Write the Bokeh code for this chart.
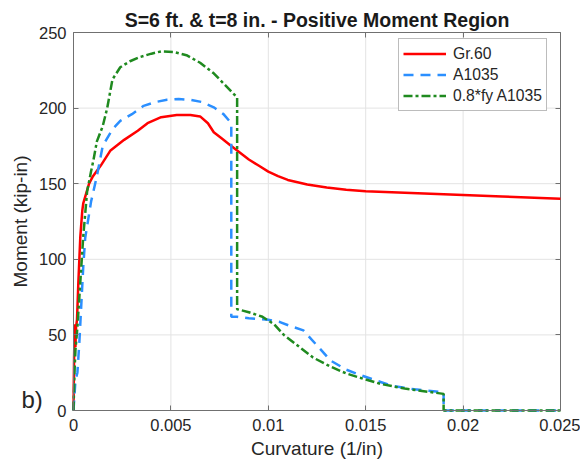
from bokeh.plotting import figure
from bokeh.models import (FixedTicker, NumeralTickFormatter, Legend, LegendItem, Range1d,
                          LinearAxis, Label)
from bokeh.embed import file_html
from bokeh.resources import INLINE

# ---- data ----
gr60_x = [0, 0.00003, 0.00006, 0.0001, 0.00013, 0.00018, 0.00025, 0.00035, 0.00045, 0.0005,
          0.0008, 0.001, 0.0014, 0.0019, 0.0026, 0.0033, 0.0038, 0.0045, 0.0053, 0.006, 0.0065,
          0.0069, 0.0072, 0.0076, 0.008, 0.0085, 0.009, 0.0095, 0.01, 0.0105, 0.011, 0.012,
          0.013, 0.014, 0.015, 0.016, 0.018, 0.02, 0.022, 0.025]
gr60_y = [0, 35, 57, 42, 55, 60, 85, 115, 132, 137,
          150, 155, 162, 172, 179, 185, 190, 194, 195.5, 195.5, 194.5,
          190, 184, 180, 176, 171, 166, 162, 158, 155, 152.5, 149.5,
          147.5, 146, 145, 144.5, 143.5, 142.5, 141.5, 140]

a1035_x = [0, 0.0001, 0.0002, 0.0003, 0.0004, 0.0005, 0.0006, 0.0009, 0.0012, 0.0015, 0.002,
           0.0024, 0.0030, 0.0036, 0.0042, 0.0048, 0.0054, 0.006, 0.0066, 0.0072, 0.0077, 0.0081,
           0.0081, 0.0084, 0.009, 0.0095, 0.01, 0.0106, 0.0111, 0.0118, 0.0125, 0.0132, 0.014,
           0.0146, 0.0155, 0.0163, 0.0175, 0.019, 0.019, 0.025]
a1035_y = [0, 20, 25, 45, 70, 95, 114, 138, 155, 175, 186,
           191.5, 196, 201.5, 204, 205.5, 206, 205.5, 204, 200.5, 196, 190,
           62, 62, 61, 60.5, 60, 58.5, 56, 53, 43, 33, 27,
           24, 20, 16.5, 14, 12, 0, 0]

fy08_x = [0, 0.00005, 0.0001, 0.0002, 0.0003, 0.0004, 0.0005, 0.0006, 0.0007, 0.0009, 0.00103,
          0.0012, 0.0015, 0.00173, 0.002, 0.0024, 0.0029, 0.0034, 0.004, 0.0045, 0.0052, 0.0058,
          0.0065, 0.0072, 0.0078, 0.0084, 0.0084, 0.009, 0.0097, 0.0103, 0.0108, 0.0115, 0.0123,
          0.0132, 0.014, 0.015, 0.0158, 0.017, 0.019, 0.019, 0.025]
fy08_y = [0, 25, 40, 55, 75, 95, 115, 130, 145, 158, 166,
          178, 188, 200, 219, 227, 231, 233.7, 236, 237.5, 237, 235,
          230, 223, 215, 207, 67, 65, 62, 57, 50, 43, 35,
          29, 24.5, 20.5, 17.5, 14.5, 11, 0, 0]

x_ticks = [0, 0.005, 0.01, 0.015, 0.02, 0.025]
y_ticks = [0, 50, 100, 150, 200, 250]
title_text = "S=6 ft. & t=8 in. - Positive Moment Region"
x_label = "Curvature (1/in)"
y_label = "Moment (kip-in)"
panel_tag = "b)"
series_names = ["Gr.60", "A1035", "0.8*fy A1035"]

FONT = "Liberation Sans"
AXIS_COL = "#707070"
GRID_COL = "#e3e3e3"
TXT_COL = "#262626"

# ---- layout: the plotting frame fills the whole canvas; the data area sits inside it
W, H = 580, 466
PAD_L, PAD_R, PAD_T, PAD_B = 73, 20, 32, 56
x0, x1 = x_ticks[0], x_ticks[-1]
y0, y1 = y_ticks[0], y_ticks[-1]
xs = (x1 - x0) / (W - PAD_L - PAD_R)
ys = (y1 - y0) / (H - PAD_T - PAD_B)

p = figure(width=W, height=H, output_backend="svg", toolbar_location=None,
           x_range=Range1d(x0 - PAD_L * xs, x1 + PAD_R * xs),
           y_range=Range1d(y0 - PAD_B * ys, y1 + PAD_T * ys),
           x_axis_location=None, y_axis_location=None,
           min_border_left=0, min_border_right=0, min_border_top=0, min_border_bottom=0,
           background_fill_color="white", border_fill_color="white")
p.outline_line_color = None
p.xgrid.visible = False
p.ygrid.visible = False

# grid lines limited to the data area
nx, ny = len(x_ticks), len(y_ticks)
p.segment(x0=x_ticks, y0=[y0] * nx, x1=x_ticks, y1=[y1] * nx, line_color=GRID_COL, line_width=1)
p.segment(x0=[x0] * ny, y0=y_ticks, x1=[x1] * ny, y1=y_ticks, line_color=GRID_COL, line_width=1)

# top and right edges of the data-area box
p.segment(x0=[x0, x1], y0=[y1, y0], x1=[x1, x1], y1=[y1, y1], line_color=AXIS_COL, line_width=1)

# axes fixed at the data-area edges
xa = LinearAxis(fixed_location=y0, bounds=(x0, x1), ticker=FixedTicker(ticks=x_ticks),
                formatter=NumeralTickFormatter(format="0.[000]"), axis_label=x_label)
xa.major_label_standoff = 8
xa.axis_label_standoff = 4
p.add_layout(xa, "below")

ya = LinearAxis(fixed_location=x0, bounds=(y0, y1), ticker=FixedTicker(ticks=y_ticks),
                axis_label=y_label)
ya.major_label_standoff = 7
ya.axis_label_standoff = 5
p.add_layout(ya, "left")

for ax in (xa, ya):
    ax.axis_line_color = AXIS_COL
    ax.major_tick_line_color = AXIS_COL
    ax.major_tick_in = 5
    ax.major_tick_out = 0
    ax.minor_tick_line_color = None
    ax.major_label_text_font = FONT
    ax.major_label_text_font_size = "16.5px"
    ax.major_label_text_color = TXT_COL
    ax.axis_label_text_font = FONT
    ax.axis_label_text_font_size = "19px"
    ax.axis_label_text_font_style = "normal"
    ax.axis_label_text_color = TXT_COL

# mirrored tick marks on top and right (box on)
xt = LinearAxis(fixed_location=y1, bounds=(x0, x1), ticker=FixedTicker(ticks=x_ticks),
                major_label_text_alpha=0, axis_line_color=None, major_tick_line_color=AXIS_COL,
                major_tick_in=5, major_tick_out=0, minor_tick_line_color=None)
p.add_layout(xt, "above")
yt = LinearAxis(fixed_location=x1, bounds=(y0, y1), ticker=FixedTicker(ticks=y_ticks),
                major_label_text_alpha=0, axis_line_color=None, major_tick_line_color=AXIS_COL,
                major_tick_in=5, major_tick_out=0, minor_tick_line_color=None)
p.add_layout(yt, "right")

r1 = p.line(gr60_x, gr60_y, line_color="#ff0000", line_width=2.5)
r2 = p.line(a1035_x, a1035_y, line_color="#2b8fff", line_width=2.5, line_dash="10 7")
r3 = p.line(fy08_x, fy08_y, line_color="#1f8a1f", line_width=2.5, line_dash="9 3 3 3")

legend = Legend(items=[LegendItem(label=series_names[0], renderers=[r1]),
                       LegendItem(label=series_names[1], renderers=[r2]),
                       LegendItem(label=series_names[2], renderers=[r3])],
                location=(398, H - 111), padding=4, spacing=0,
                glyph_width=43, glyph_height=21, label_height=21, label_standoff=7,
                label_text_font=FONT, label_text_font_size="15.7px", label_text_color=TXT_COL,
                border_line_color="#7a7a7a", border_line_width=1,
                background_fill_color="white", background_fill_alpha=1)
p.add_layout(legend)

# title above the data area, centred on it
p.add_layout(Label(x=(x0 + x1) / 2, y=y1, y_offset=24, text=title_text, text_font=FONT,
                   text_font_size="19.5px", text_font_style="bold", text_color="#1a1a1a",
                   text_align="center", text_baseline="top"))

# panel tag left of the data area near its bottom
p.add_layout(Label(x=x0, y=y0, x_offset=-52, y_offset=25, text=panel_tag, text_font=FONT,
                   text_font_size="24px", text_color=TXT_COL, text_align="left",
                   text_baseline="top"))

open("out.html", "w").write(file_html(p, INLINE))
